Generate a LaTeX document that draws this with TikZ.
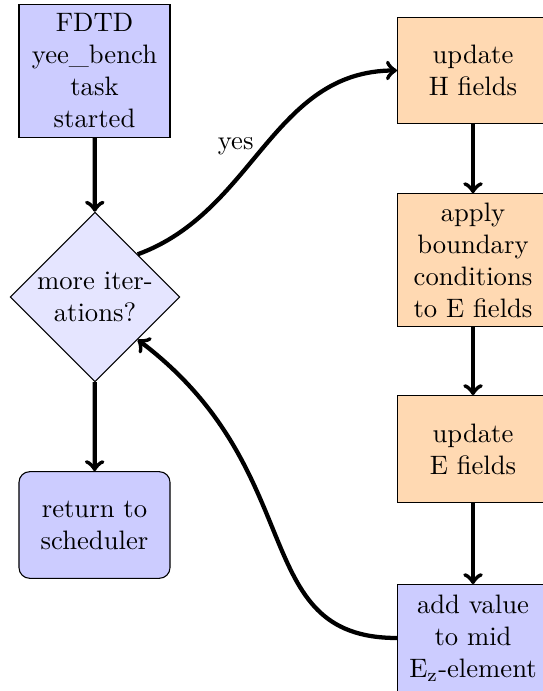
\documentclass[tikz,border=0pt]{standalone}
\usetikzlibrary{shapes.geometric}

\tikzset{
  blockbase/.style={rectangle, draw, text width=5em, align=center,
    minimum height=4em},
  startbox/.style={blockbase, fill=blue!20},
  stepbox/.style={blockbase, fill=orange!30},
  addbox/.style={blockbase, fill=blue!20},
  endbox/.style={blockbase, fill=blue!20, rounded corners},
  decision/.style={diamond, draw, fill=blue!10, text width=4.5em,
    align=center, inner sep=0pt},
  conn/.style={draw, ultra thick, ->},
}

\begin{document}
\begin{tikzpicture}[x=0.3752pt, y=0.3752pt]
  \useasboundingbox (0,0) rectangle (542,691);

  % left column
  \node[startbox] (start) at (94.5,620) {FDTD\\yee\_bench\\task\\started};
  \node[decision] (dec) at (95,394) {more iter-\\ations?};
  \node[endbox] (ret) at (94.5,166) {return to\\scheduler};

  % right column
  \node[stepbox] (updH) at (473,620.5) {update\\H fields};
  \node[stepbox] (bc) at (473,431) {apply\\boundary\\conditions\\to E fields};
  \node[stepbox] (updE) at (473,242) {update\\E fields};
  \node[addbox] (add) at (473,53) {add value\\to mid\\E$_\mathrm{z}$-element};

  % connectors
  \draw[conn] (start) -- (dec);
  \draw[conn] (dec) -- (ret);
  \draw[conn] (updH) -- (bc);
  \draw[conn] (bc) -- (updE);
  \draw[conn] (updE) -- (add);
  \draw[conn] (dec.north east) to[out=20, in=180]
    node[pos=0.5, left] {yes} (updH.west);
  \draw[conn] (add.west) to[out=180, in=-37, out looseness=0.97,
    in looseness=1.41] (dec.south east);
\end{tikzpicture}
\end{document}
